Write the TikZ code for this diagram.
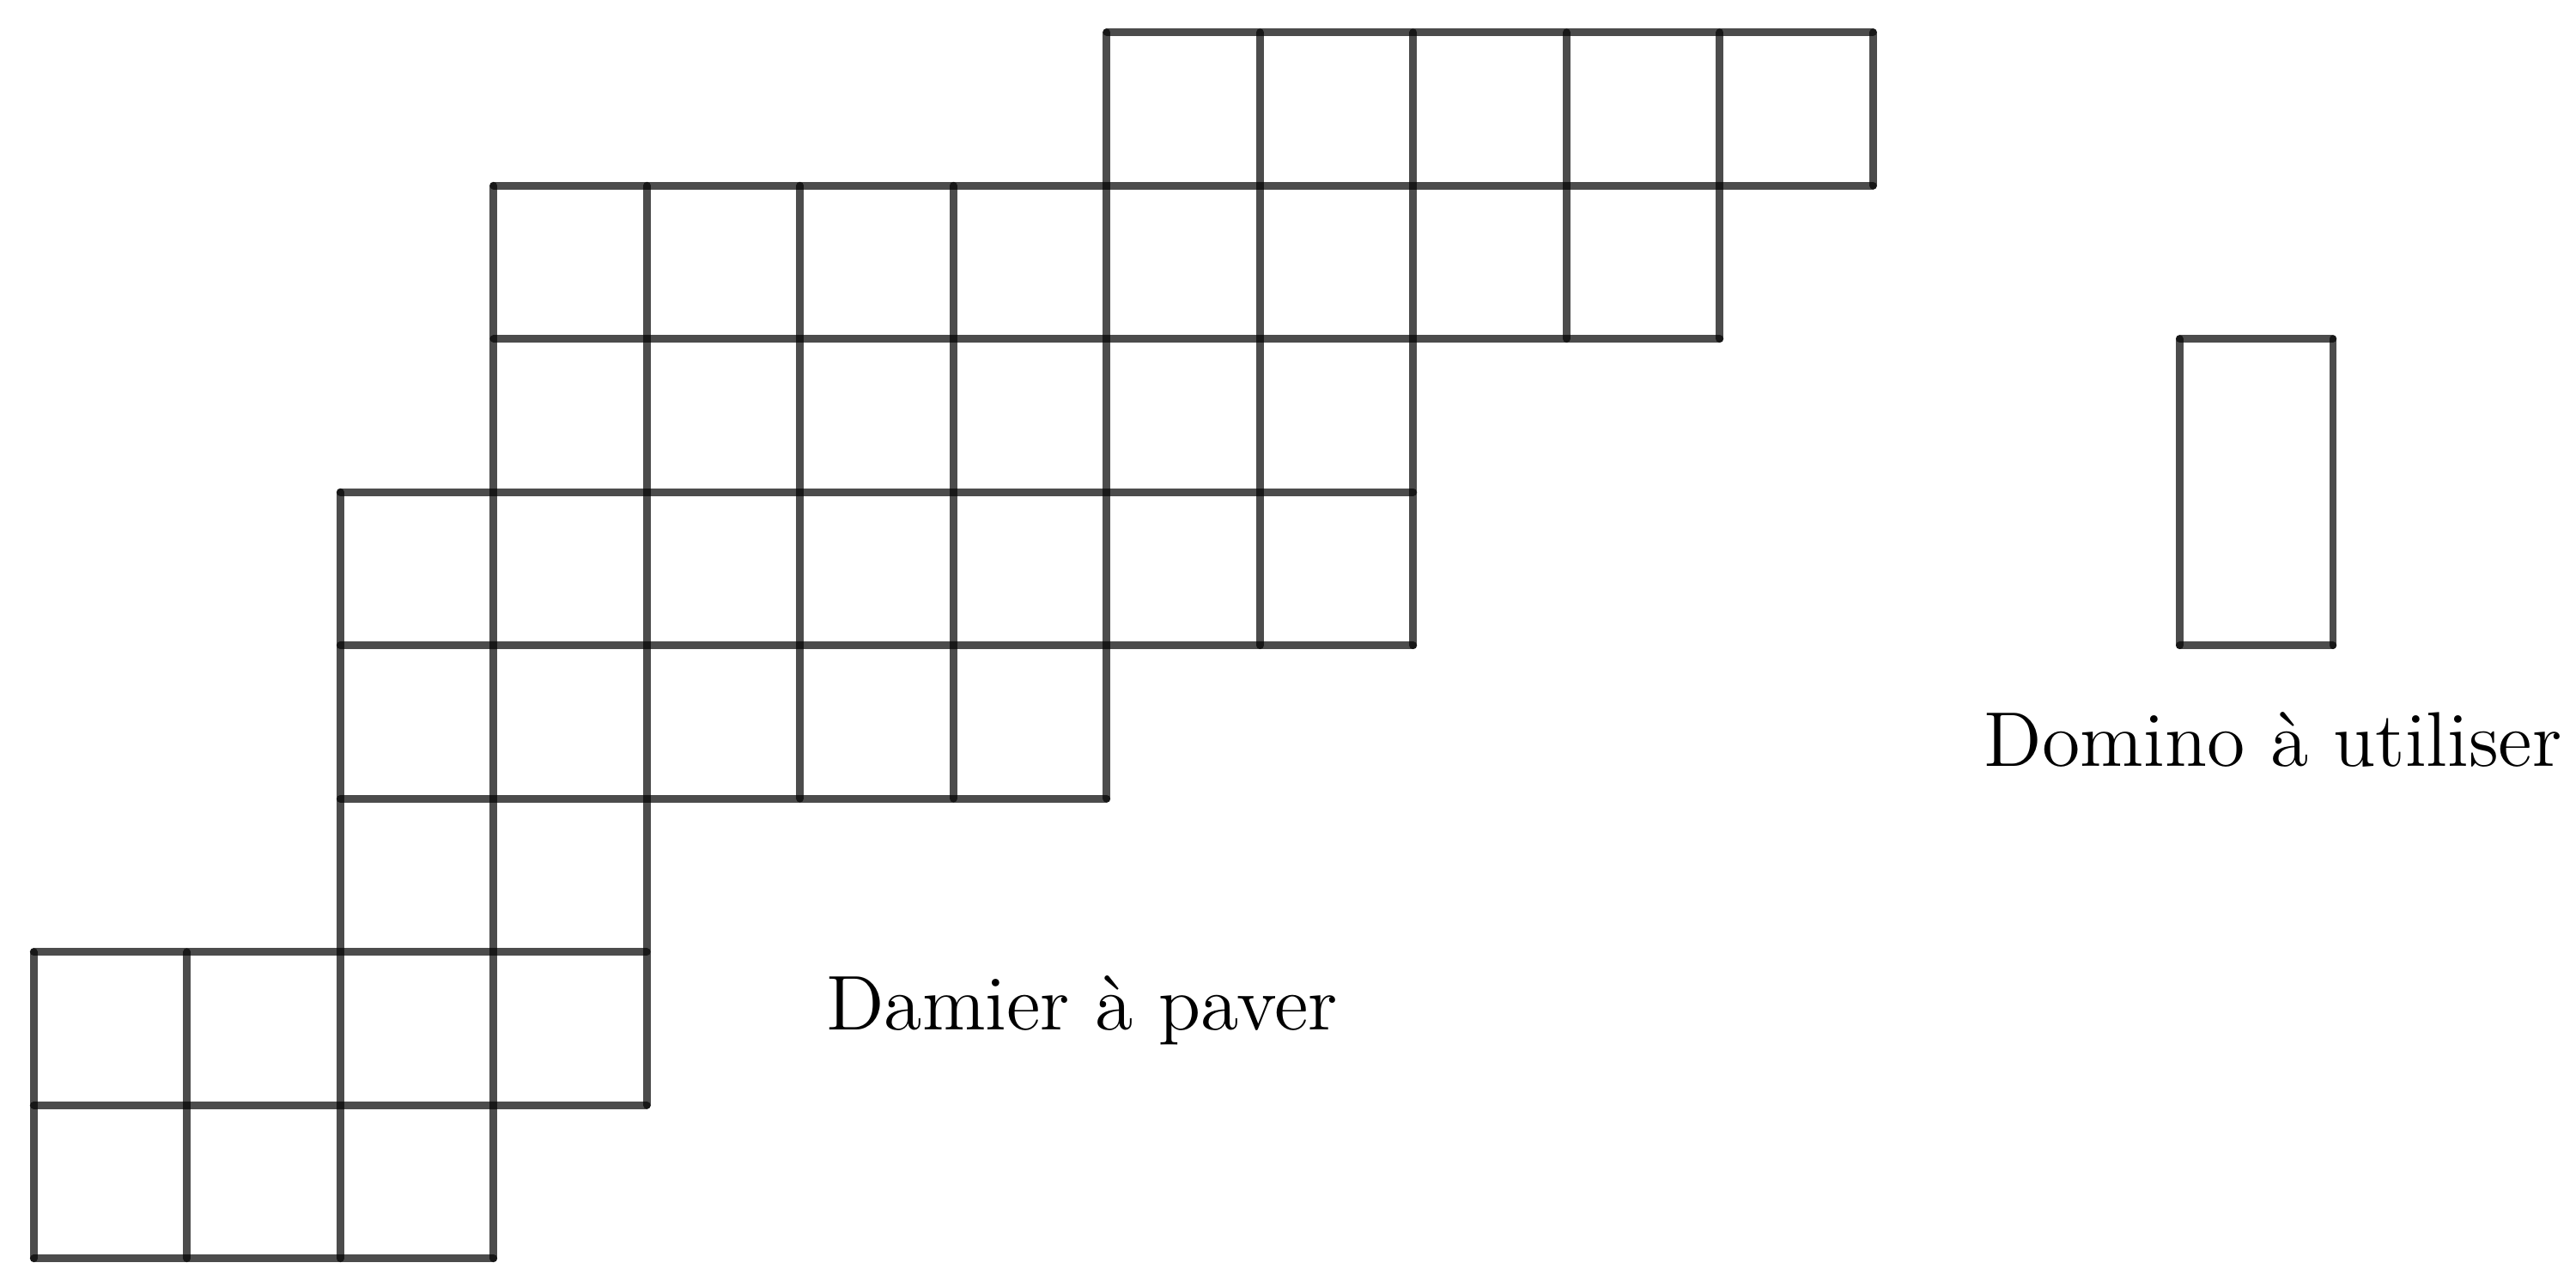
\documentclass[tikz,border=0pt]{standalone}
\usepackage{fontspec}

\begin{document}
\begin{tikzpicture}[trait/.style={line width=1.4pt, draw opacity=0.7, line cap=round}]
    \useasboundingbox (-0.22, -0.142) rectangle (16.586, 8.211);
    % lignes horizontales du damier
    \draw[trait] (0, 0) -- (3, 0);
    \draw[trait] (0, 1) -- (4, 1);
    \draw[trait] (0, 2) -- (4, 2);
    \draw[trait] (2, 3) -- (7, 3);
    \draw[trait] (2, 4) -- (9, 4);
    \draw[trait] (2, 5) -- (9, 5);
    \draw[trait] (3, 6) -- (11, 6);
    \draw[trait] (3, 7) -- (12, 7);
    \draw[trait] (7, 8) -- (12, 8);
    % lignes verticales du damier
    \draw[trait] (0, 0) -- (0, 2);
    \draw[trait] (1, 0) -- (1, 2);
    \draw[trait] (2, 0) -- (2, 5);
    \draw[trait] (3, 0) -- (3, 7);
    \draw[trait] (4, 1) -- (4, 7);
    \draw[trait] (5, 3) -- (5, 7);
    \draw[trait] (6, 3) -- (6, 7);
    \draw[trait] (7, 3) -- (7, 8);
    \draw[trait] (8, 4) -- (8, 8);
    \draw[trait] (9, 4) -- (9, 8);
    \draw[trait] (10, 6) -- (10, 8);
    \draw[trait] (11, 6) -- (11, 8);
    \draw[trait] (12, 7) -- (12, 8);
    % domino
    \draw[trait] (14, 4) -- (15, 4);
    \draw[trait] (14, 6) -- (15, 6);
    \draw[trait] (14, 4) -- (14, 6);
    \draw[trait] (15, 4) -- (15, 6);
    \node[anchor=base] (damier) at (6.84, 1.489) {\Large Damier à paver};
    \node[anchor=base] (domino) at (14.61, 3.21) {\Large Domino à utiliser};
  \end{tikzpicture}
\end{document}
